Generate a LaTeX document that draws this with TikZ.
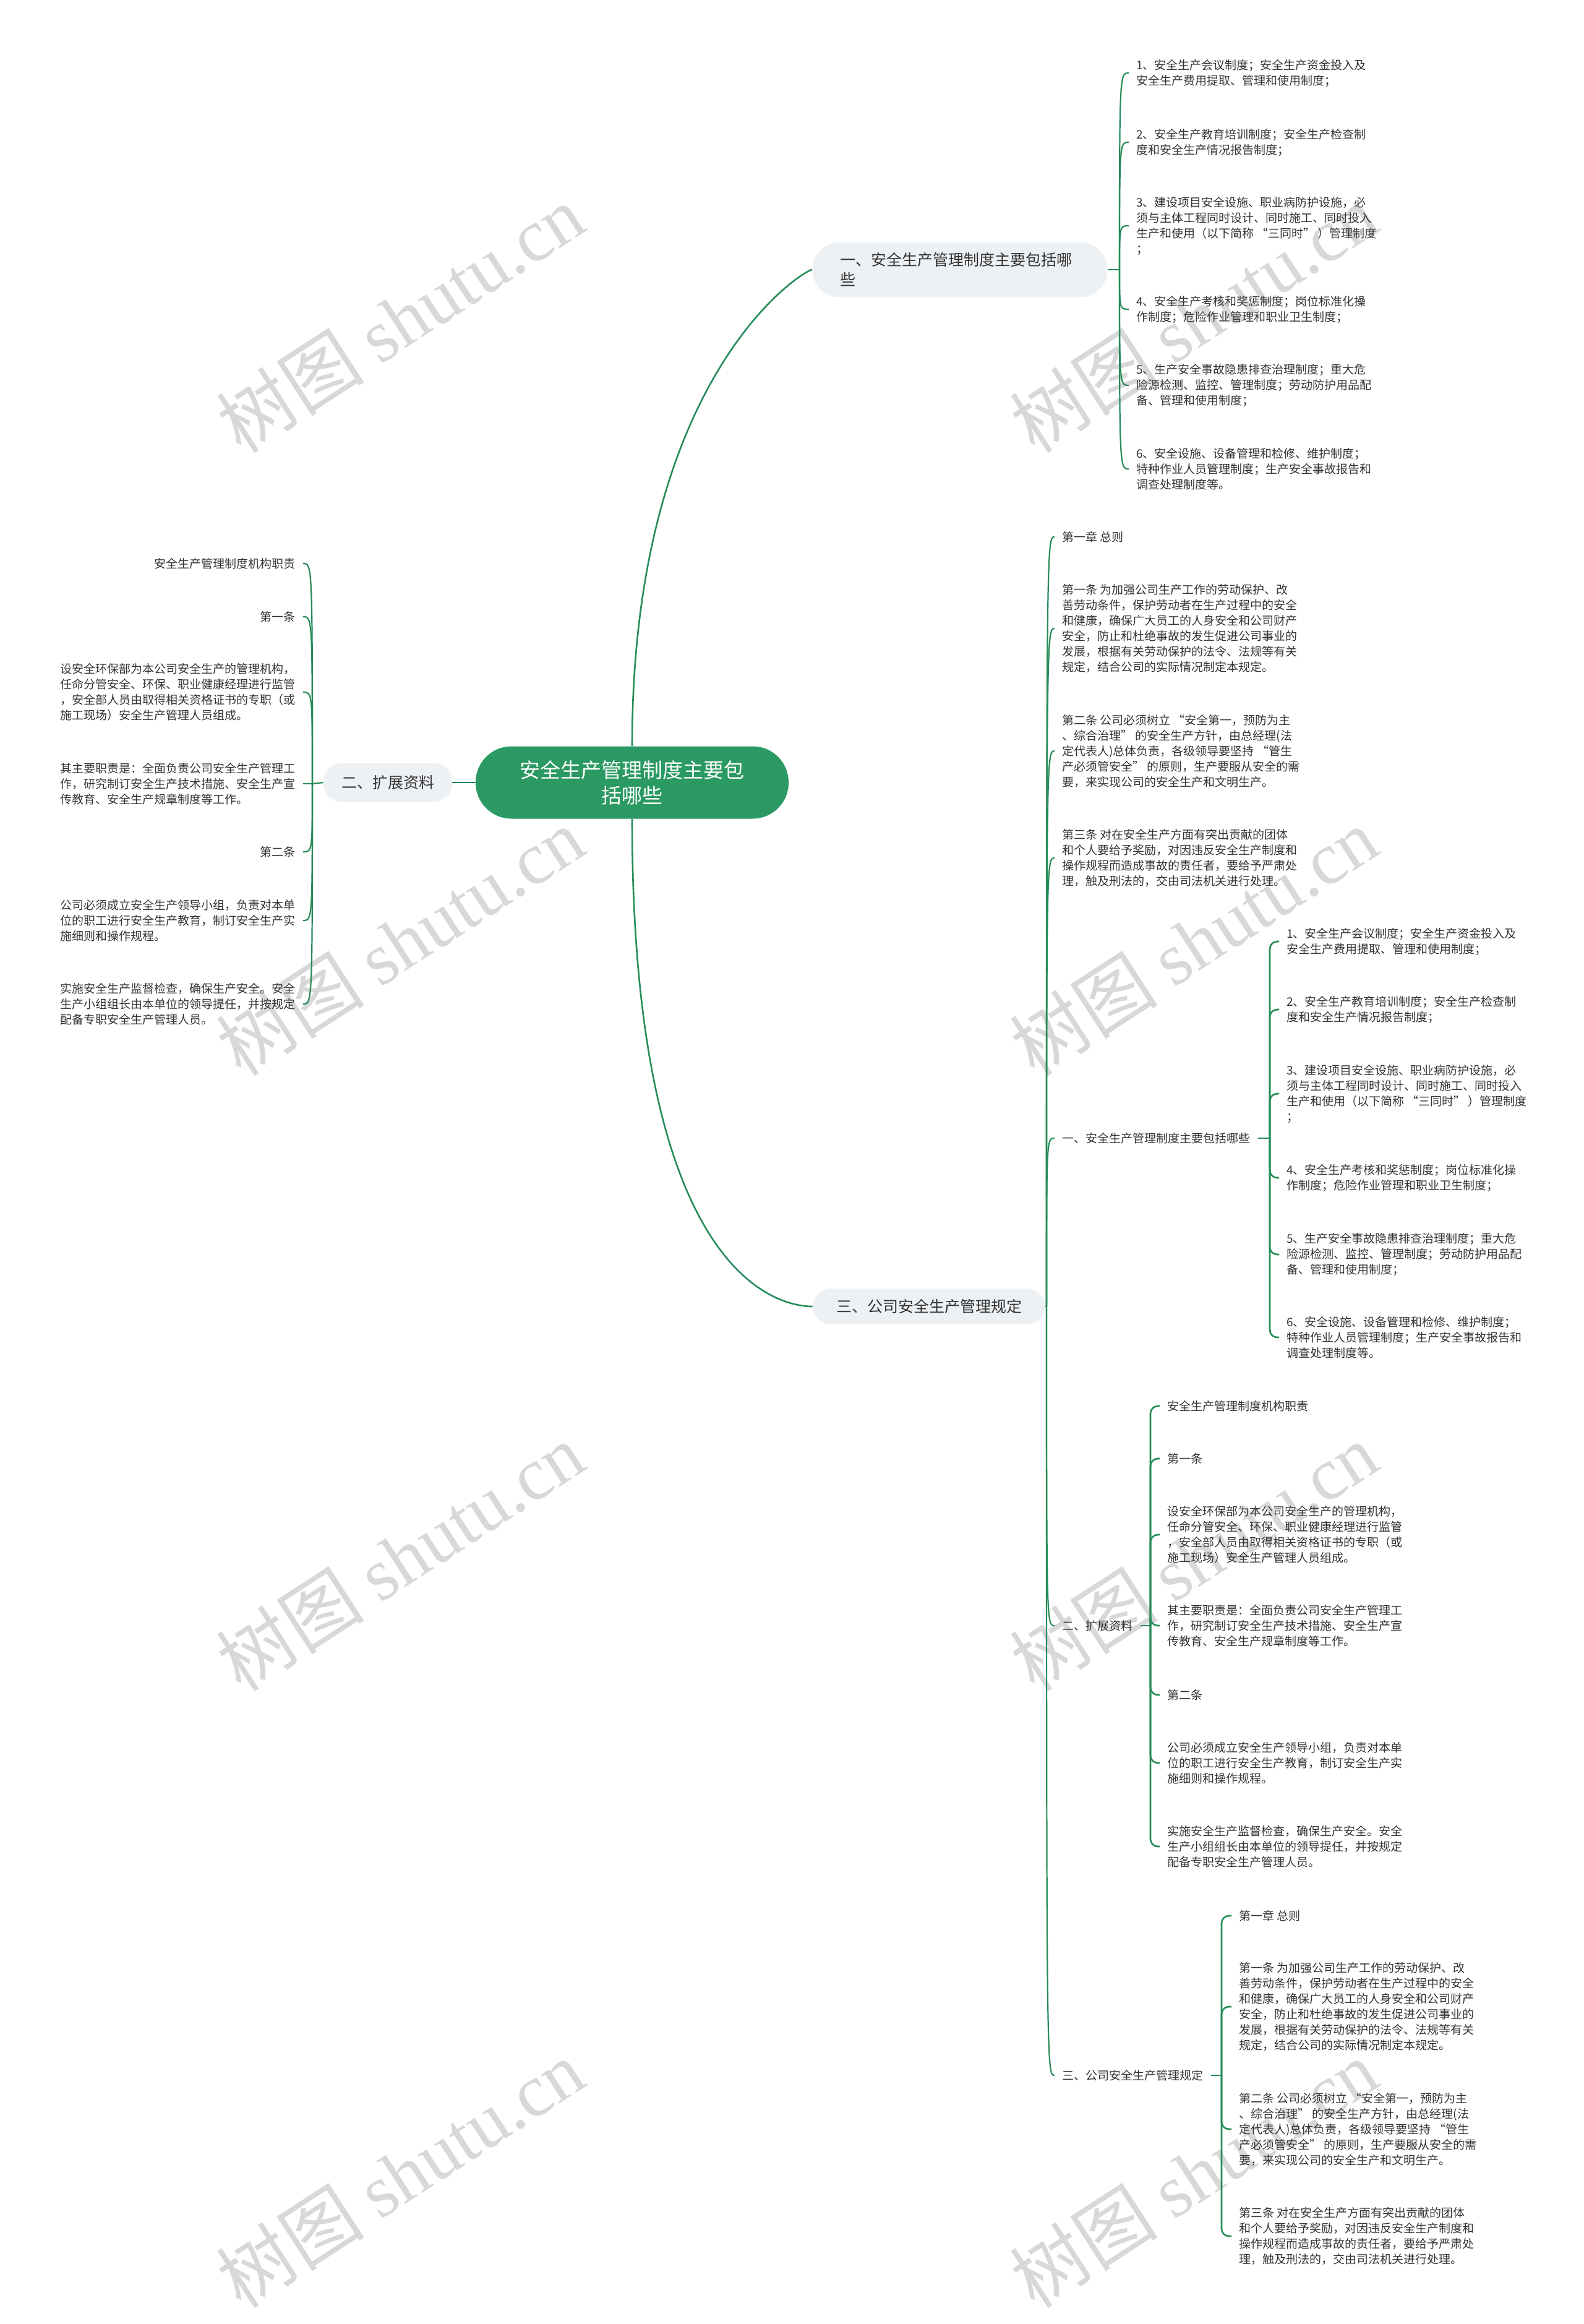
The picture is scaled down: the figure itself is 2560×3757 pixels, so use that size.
\documentclass[tikz,border=0pt]{standalone}
\usepackage{fontspec}
\setmainfont{Noto Sans CJK SC}
\newfontfamily\wmserif{Liberation Serif}
\definecolor{rootgreen}{RGB}{42,153,98}
\definecolor{linegreen}{RGB}{38,140,90}
\definecolor{pillgrey}{RGB}{238,241,244}
\definecolor{inkgrey}{RGB}{51,51,51}
\definecolor{markgrey}{RGB}{216,216,216}

\begin{document}
\begin{tikzpicture}[x=0.5pt, y=-0.5pt,
  rootbox/.style={fill=rootgreen, text=white, rounded corners=29pt,
    minimum width=253pt, minimum height=58.5pt, align=center,
    font=\fontsize{16.5pt}{20.5pt}\selectfont},
  topic/.style={fill=pillgrey, text=inkgrey, font=\fontsize{12.5pt}{16pt}\selectfont},
  leaf/.style={text=inkgrey, align=left, inner xsep=6pt, inner ysep=0pt,
    font=\fontsize{9.5pt}{12.5pt}\selectfont},
  bough/.style={draw=linegreen, line width=1.3pt},
  twig/.style={draw=linegreen, line width=1.1pt},
  elbow/.style={draw=linegreen, line width=1.3pt, rounded corners=6pt},
  wmark/.style={text=markgrey, rotate=33, font=\fontsize{60pt}{60pt}\selectfont}]
  \useasboundingbox (0,0) rectangle (2560,3757);
  \fill[white] (0,0) rectangle (2560,3757);

  % watermarks
  \node[wmark] (wm1) at (647,515)   {树图 {\wmserif shutu.cn}};
  \node[wmark] (wm2) at (1930,515)  {树图 {\wmserif shutu.cn}};
  \node[wmark] (wm3) at (647,1522)  {树图 {\wmserif shutu.cn}};
  \node[wmark] (wm4) at (1930,1522) {树图 {\wmserif shutu.cn}};
  \node[wmark] (wm5) at (647,2517)  {树图 {\wmserif shutu.cn}};
  \node[wmark] (wm6) at (1930,2517) {树图 {\wmserif shutu.cn}};
  \node[wmark] (wm7) at (647,3514)  {树图 {\wmserif shutu.cn}};
  \node[wmark] (wm8) at (1930,3514) {树图 {\wmserif shutu.cn}};

  % root and main topics
  \node[rootbox] (root) at (1022,1265) {安全生产管理制度主要包\\括哪些};
  \node[topic, rounded corners=22pt, minimum width=238.5pt, minimum height=44.5pt,
    text width=193.5pt, inner xsep=22.5pt, align=left] (b1) at (1552,436)
    {一、安全生产管理制度主要包括哪\\些};
  \node[topic, rounded corners=15pt, minimum width=104pt, minimum height=31.5pt]
    (b2) at (627,1265) {二、扩展资料};
  \node[topic, rounded corners=15pt, minimum width=188pt, minimum height=29pt]
    (b3) at (1502,2112) {三、公司安全生产管理规定};

  \draw[bough] (root.north) .. controls (1022,606) and (1300,436) .. (b1.west);
  \draw[bough] (root.south) .. controls (1022,2050) and (1250,2112) .. (b3.west);
  \draw[bough] (root.west) -- (b2.east);

  % topic 1
  \coordinate (j1) at (1810,436);
  \node[leaf, anchor=west] (a1) at (1825,118) {1、安全生产会议制度；安全生产资金投入及\\安全生产费用提取、管理和使用制度；};
  \node[leaf, anchor=west] (a2) at (1825,230) {2、安全生产教育培训制度；安全生产检查制\\度和安全生产情况报告制度；};
  \node[leaf, anchor=west] (a3) at (1825,365) {3、建设项目安全设施、职业病防护设施，必\\须与主体工程同时设计、同时施工、同时投入\\生产和使用（以下简称 “三同时” ）管理制度\\；};
  \node[leaf, anchor=west] (a4) at (1825,500) {4、安全生产考核和奖惩制度；岗位标准化操\\作制度；危险作业管理和职业卫生制度；};
  \node[leaf, anchor=west] (a5) at (1825,623) {5、生产安全事故隐患排查治理制度；重大危\\险源检测、监控、管理制度；劳动防护用品配\\备、管理和使用制度；};
  \node[leaf, anchor=west] (a6) at (1825,758) {6、安全设施、设备管理和检修、维护制度；\\特种作业人员管理制度；生产安全事故报告和\\调查处理制度等。};
  \draw[twig] (b1.east) -- (j1);
  \foreach \n in {a1,a2,a3,a4,a5,a6}
    \draw[twig] (j1) .. controls (j1 |- \n) .. (\n.west);

  % topic 2
  \coordinate (j2) at (505,1267);
  \node[leaf, anchor=east] (c1) at (490,911)  {安全生产管理制度机构职责};
  \node[leaf, anchor=east] (c2) at (490,997)  {第一条};
  \node[leaf, anchor=east] (c3) at (490,1119) {设安全环保部为本公司安全生产的管理机构，\\任命分管安全、环保、职业健康经理进行监管\\，安全部人员由取得相关资格证书的专职（或\\施工现场）安全生产管理人员组成。};
  \node[leaf, anchor=east] (c4) at (490,1267) {其主要职责是：全面负责公司安全生产管理工\\作，研究制订安全生产技术措施、安全生产宣\\传教育、安全生产规章制度等工作。};
  \node[leaf, anchor=east] (c5) at (490,1377) {第二条};
  \node[leaf, anchor=east] (c6) at (490,1488) {公司必须成立安全生产领导小组，负责对本单\\位的职工进行安全生产教育，制订安全生产实\\施细则和操作规程。};
  \node[leaf, anchor=east] (c7) at (490,1623) {实施安全生产监督检查，确保生产安全。安全\\生产小组组长由本单位的领导提任，并按规定\\配备专职安全生产管理人员。};
  \draw[twig] (b2.west) -- (j2);
  \foreach \n in {c1,c2,c3,c4,c5,c6,c7}
    \draw[twig] (j2) .. controls (j2 |- \n) .. (\n.east);

  % topic 3
  \coordinate (j3) at (1692,2112);
  \node[leaf, anchor=west] (d1) at (1705,868)  {第一章 总则};
  \node[leaf, anchor=west] (d2) at (1705,1016) {第一条 为加强公司生产工作的劳动保护、改\\善劳动条件，保护劳动者在生产过程中的安全\\和健康，确保广大员工的人身安全和公司财产\\安全，防止和杜绝事故的发生促进公司事业的\\发展，根据有关劳动保护的法令、法规等有关\\规定，结合公司的实际情况制定本规定。};
  \node[leaf, anchor=west] (d3) at (1705,1214) {第二条 公司必须树立 “安全第一，预防为主\\、综合治理” 的安全生产方针，由总经理(法\\定代表人)总体负责，各级领导要坚持 “管生\\产必须管安全” 的原则，生产要服从安全的需\\要，来实现公司的安全生产和文明生产。};
  \node[leaf, anchor=west] (d4) at (1705,1387) {第三条 对在安全生产方面有突出贡献的团体\\和个人要给予奖励，对因违反安全生产制度和\\操作规程而造成事故的责任者，要给予严肃处\\理，触及刑法的，交由司法机关进行处理。};
  \node[leaf, anchor=west] (s1) at (1705,1840) {一、安全生产管理制度主要包括哪些};
  \node[leaf, anchor=west] (s2) at (1705,2628) {二、扩展资料};
  \node[leaf, anchor=west] (s3) at (1705,3355) {三、公司安全生产管理规定};
  \draw[twig] (b3.east) -- (j3);
  \foreach \n in {d1,d2,d3,d4,s1,s2,s3}
    \draw[twig] (j3) .. controls (j3 |- \n) .. (\n.west);

  % topic 3 / one
  \coordinate (k1) at (2053,1840);
  \node[leaf, anchor=west] (e1) at (2068,1522) {1、安全生产会议制度；安全生产资金投入及\\安全生产费用提取、管理和使用制度；};
  \node[leaf, anchor=west] (e2) at (2068,1632) {2、安全生产教育培训制度；安全生产检查制\\度和安全生产情况报告制度；};
  \node[leaf, anchor=west] (e3) at (2068,1768) {3、建设项目安全设施、职业病防护设施，必\\须与主体工程同时设计、同时施工、同时投入\\生产和使用（以下简称 “三同时” ）管理制度\\；};
  \node[leaf, anchor=west] (e4) at (2068,1904) {4、安全生产考核和奖惩制度；岗位标准化操\\作制度；危险作业管理和职业卫生制度；};
  \node[leaf, anchor=west] (e5) at (2068,2028) {5、生产安全事故隐患排查治理制度；重大危\\险源检测、监控、管理制度；劳动防护用品配\\备、管理和使用制度；};
  \node[leaf, anchor=west] (e6) at (2068,2162) {6、安全设施、设备管理和检修、维护制度；\\特种作业人员管理制度；生产安全事故报告和\\调查处理制度等。};
  \draw[elbow] (s1.east) -- (k1);
  \foreach \n in {e1,e2,e3,e4,e5,e6}
    \draw[elbow] (k1) |- (\n.west);

  % topic 3 / two
  \coordinate (k2) at (1860,2628);
  \node[leaf, anchor=west] (f1) at (1875,2273) {安全生产管理制度机构职责};
  \node[leaf, anchor=west] (f2) at (1875,2358) {第一条};
  \node[leaf, anchor=west] (f3) at (1875,2481) {设安全环保部为本公司安全生产的管理机构，\\任命分管安全、环保、职业健康经理进行监管\\，安全部人员由取得相关资格证书的专职（或\\施工现场）安全生产管理人员组成。};
  \node[leaf, anchor=west] (f4) at (1875,2628) {其主要职责是：全面负责公司安全生产管理工\\作，研究制订安全生产技术措施、安全生产宣\\传教育、安全生产规章制度等工作。};
  \node[leaf, anchor=west] (f5) at (1875,2740) {第二条};
  \node[leaf, anchor=west] (f6) at (1875,2850) {公司必须成立安全生产领导小组，负责对本单\\位的职工进行安全生产教育，制订安全生产实\\施细则和操作规程。};
  \node[leaf, anchor=west] (f7) at (1875,2985) {实施安全生产监督检查，确保生产安全。安全\\生产小组组长由本单位的领导提任，并按规定\\配备专职安全生产管理人员。};
  \draw[elbow] (s2.east) -- (k2);
  \foreach \n in {f1,f2,f3,f4,f5,f6,f7}
    \draw[elbow] (k2) |- (\n.west);

  % topic 3 / three
  \coordinate (k3) at (1975,3355);
  \node[leaf, anchor=west] (g1) at (1991,3097) {第一章 总则};
  \node[leaf, anchor=west] (g2) at (1991,3244) {第一条 为加强公司生产工作的劳动保护、改\\善劳动条件，保护劳动者在生产过程中的安全\\和健康，确保广大员工的人身安全和公司财产\\安全，防止和杜绝事故的发生促进公司事业的\\发展，根据有关劳动保护的法令、法规等有关\\规定，结合公司的实际情况制定本规定。};
  \node[leaf, anchor=west] (g3) at (1991,3442) {第二条 公司必须树立 “安全第一，预防为主\\、综合治理” 的安全生产方针，由总经理(法\\定代表人)总体负责，各级领导要坚持 “管生\\产必须管安全” 的原则，生产要服从安全的需\\要，来实现公司的安全生产和文明生产。};
  \node[leaf, anchor=west] (g4) at (1991,3615) {第三条 对在安全生产方面有突出贡献的团体\\和个人要给予奖励，对因违反安全生产制度和\\操作规程而造成事故的责任者，要给予严肃处\\理，触及刑法的，交由司法机关进行处理。};
  \draw[elbow] (s3.east) -- (k3);
  \foreach \n in {g1,g2,g3,g4}
    \draw[elbow] (k3) |- (\n.west);
\end{tikzpicture}
\end{document}
